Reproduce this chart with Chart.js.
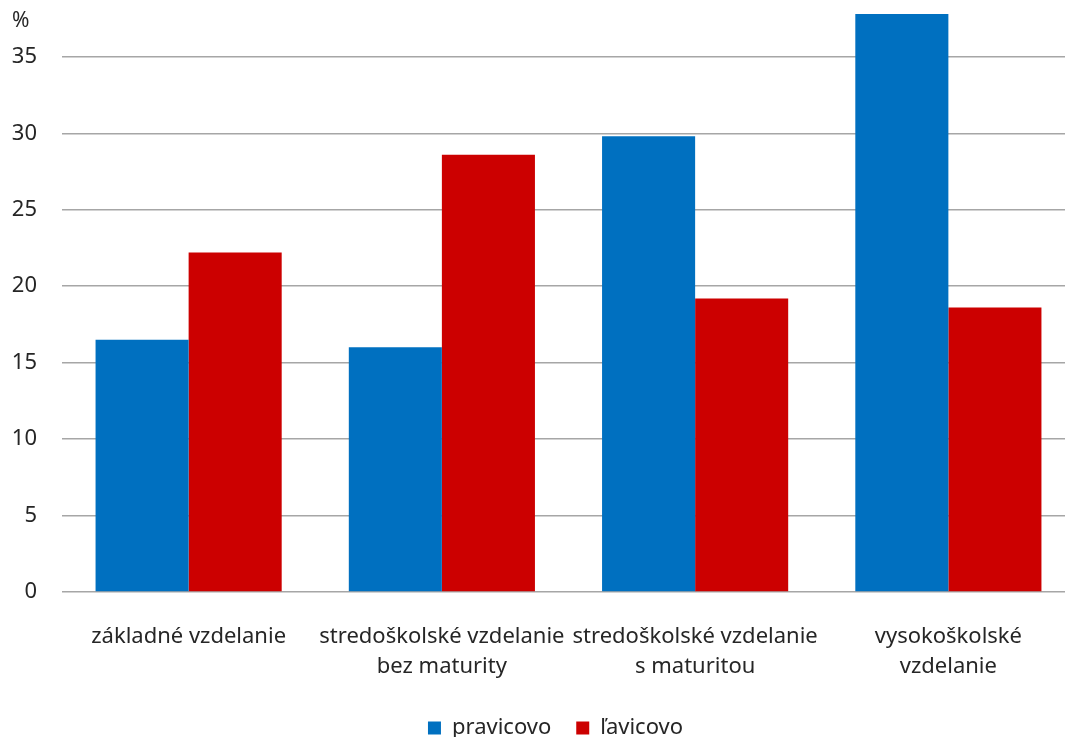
<!DOCTYPE html>
<html>
<head>
<meta charset="utf-8">
<script src="https://cdn.jsdelivr.net/npm/chart.js@4.4.0/dist/chart.umd.min.js"></script>
<style>
  html, body { margin: 0; padding: 0; background: #fff; overflow: hidden; }
  #wrap { width: 1075px; height: 737px; }
</style>
</head>
<body>
<div id="wrap"><canvas id="eduChart" width="1075" height="737"></canvas></div>
<script>
// categories and values (percent)
var categories = [
  "základné vzdelanie",
  ["stredoškolské vzdelanie", "bez maturity"],
  ["stredoškolské vzdelanie", "s maturitou"],
  ["vysokoškolské", "vzdelanie"]
];
var pravicovo = [16.5, 16.0, 29.8, 37.8];
var lavicovo = [22.2, 28.6, 19.2, 18.6];
var yTicks = [0, 5, 10, 15, 20, 25, 30, 35];

var fontFamily = "'Noto Sans', 'Open Sans', sans-serif";
Chart.defaults.font.family = fontFamily;
Chart.defaults.font.size = 22;
Chart.defaults.color = "#262626";

// small "%" label above the y axis, and legend nudged to where Excel put it
var extras = {
  id: "extras",
  afterLayout: function (chart) {
    var lg = chart.legend;
    var h = lg.height;
    lg.left += 18; lg.right += 18;
    lg.top = 692; lg.bottom = 692 + h;
  },
  afterDraw: function (chart) {
    var ctx = chart.ctx;
    ctx.save();
    ctx.font = "21px " + fontFamily;
    ctx.fillStyle = "#262626";
    ctx.textBaseline = "middle";
    ctx.fillText("%", 12, 21);
    ctx.restore();
  }
};

var ctx = document.getElementById("eduChart").getContext("2d");
var eduChart = new Chart(ctx, {
  type: "bar",
  data: {
    labels: categories,
    datasets: [{
      label: "pravicovo",
      data: pravicovo,
      backgroundColor: "#0070C0",
      borderWidth: 0
    }, {
      label: "ľavicovo",
      data: lavicovo,
      backgroundColor: "#CC0000",
      borderWidth: 0
    }]
  },
  options: {
    responsive: false,
    animation: false,
    devicePixelRatio: 1,
    layout: { padding: { top: 11, right: 0, left: 0, bottom: 0 } },
    datasets: {
      bar: { categoryPercentage: 0.735, barPercentage: 1.0 }
    },
    plugins: {
      legend: {
        position: "bottom",
        labels: {
          boxWidth: 13,
          boxHeight: 13,
          padding: 25,
          color: "#262626",
          font: { size: 22 }
        }
      },
      tooltip: { enabled: false }
    },
    scales: {
      x: {
        grid: { display: false, drawTicks: false },
        border: { display: false },
        ticks: { padding: 30, maxRotation: 0, autoSkip: false, font: { size: 22, lineHeight: 1.36 } },
        afterFit: function (scale) {
          scale.height = (737 - 592) - scale.chart.legend.height;
          scale.paddingLeft = 0;
          scale.paddingRight = 0;
        }
      },
      y: {
        min: 0,
        max: 38,
        grid: { color: "#a6a6a6", lineWidth: 1.5, drawTicks: false },
        border: { display: false },
        ticks: { padding: 25, font: { size: 22 } },
        afterBuildTicks: function (scale) {
          scale.ticks = yTicks.map(function (v) { return { value: v }; });
        },
        afterFit: function (scale) {
          scale.width = 62;
          scale.paddingTop = 0;
          scale.paddingBottom = 0;
        }
      }
    }
  },
  plugins: [extras]
});
</script>
</body>
</html>
